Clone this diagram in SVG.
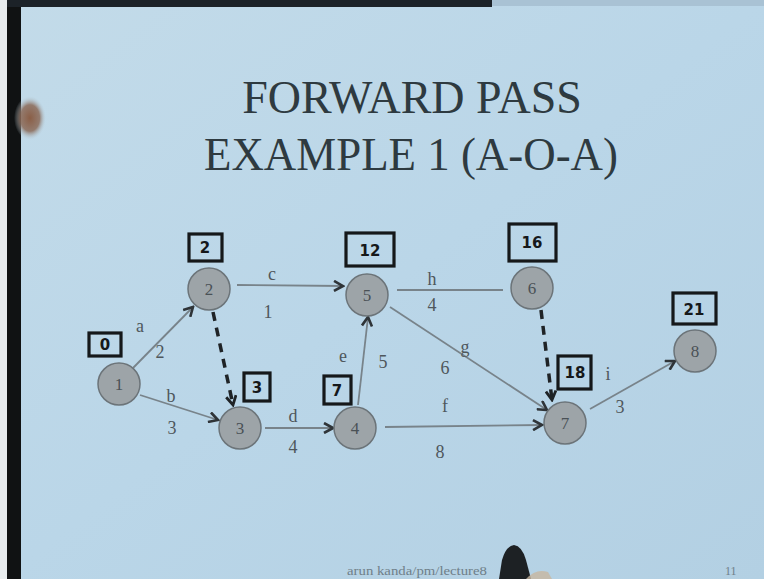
<svg xmlns="http://www.w3.org/2000/svg" width="764" height="579" viewBox="0 0 764 579">
<defs>
<linearGradient id="bg" x1="0" y1="0" x2="1" y2="1">
<stop offset="0" stop-color="#c3dbe9"/>
<stop offset="0.5" stop-color="#bad6e8"/>
<stop offset="1" stop-color="#b3d0e3"/>
</linearGradient>
<radialGradient id="hand" cx="0.5" cy="0.5" r="0.5">
<stop offset="0" stop-color="#8a5e46"/>
<stop offset="0.6" stop-color="#8b6a58" stop-opacity="0.85"/>
<stop offset="1" stop-color="#b8cfdc" stop-opacity="0"/>
</radialGradient>
<marker id="arr" viewBox="0 0 12 12" refX="10" refY="6" markerWidth="12" markerHeight="12" markerUnits="userSpaceOnUse" orient="auto">
<path d="M1,1 L10,6 L1,11" fill="none" stroke="#2f3438" stroke-width="2.6" stroke-linejoin="miter"/>
</marker>
<marker id="arrd" viewBox="0 0 12 12" refX="10" refY="6" markerWidth="12" markerHeight="12" markerUnits="userSpaceOnUse" orient="auto">
<path d="M1,1 L10,6 L1,11" fill="none" stroke="#1f2326" stroke-width="2.8"/>
</marker>
</defs>
<style>
.title{font-family:"Liberation Serif","Times New Roman",serif;font-size:46px;fill:#2e3a40;text-anchor:middle}
.node circle{fill:#9da4a8;stroke:#6c7479;stroke-width:1.5}
.node text.n{font-family:"Liberation Serif",serif;font-size:17px;fill:#4a5156;text-anchor:middle;dominant-baseline:central}
.box{fill:none;stroke:#15181a;stroke-width:3.2}
.bt{font-family:"DejaVu Sans","Liberation Sans",sans-serif;font-weight:bold;font-size:15px;fill:#15181a;text-anchor:middle}
.edge{stroke:#78838a;stroke-width:1.8;fill:none}
.dash{stroke:#1f2326;stroke-width:3.5;stroke-dasharray:9 7;fill:none}
.lbl{font-family:"Liberation Serif",serif;font-size:18px;fill:#4f575c;text-anchor:middle}
.foot{font-family:"Liberation Serif",serif;font-size:12px;fill:#6f7f89}
</style>
<rect width="764" height="579" fill="url(#bg)"/>
<rect x="0" y="0" width="7" height="579" fill="#e8ecee"/>
<rect x="7" y="0" width="14" height="579" fill="#101213"/>
<rect x="7" y="0" width="485" height="7" fill="#1c2228"/>
<rect x="492" y="0" width="272" height="6" fill="#a9c2d4"/>
<ellipse cx="30" cy="118" rx="16" ry="22" fill="url(#hand)"/>

<text class="title" x="412" y="113">FORWARD PASS</text>
<text class="title" x="411" y="170" textLength="414" lengthAdjust="spacingAndGlyphs">EXAMPLE 1 (A-O-A)</text>

<g id="connectors">
<line class="edge" x1="133" y1="368" x2="193" y2="307" marker-end="url(#arr)"/>
<line class="edge" x1="140" y1="395" x2="218" y2="420" marker-end="url(#arr)"/>
<line class="dash" x1="213" y1="312" x2="233" y2="405" marker-end="url(#arrd)"/>
<line class="edge" x1="237" y1="285" x2="343" y2="286" marker-end="url(#arr)"/>
<line class="edge" x1="265" y1="428" x2="333" y2="428" marker-end="url(#arr)"/>
<line class="edge" x1="358" y1="405" x2="368" y2="317" marker-end="url(#arr)"/>
<line class="edge" x1="397" y1="290" x2="503" y2="290"/>
<line class="edge" x1="390" y1="307" x2="547" y2="410" marker-end="url(#arr)"/>
<line class="edge" x1="385" y1="427" x2="542" y2="425" marker-end="url(#arr)"/>
<line class="dash" x1="541" y1="310" x2="552" y2="400" marker-end="url(#arrd)"/>
<line class="edge" x1="590" y1="409" x2="675" y2="361" marker-end="url(#arr)"/>
<text class="lbl" x="140" y="332">a</text>
<text class="lbl" x="160" y="358">2</text>
<text class="lbl" x="171" y="402">b</text>
<text class="lbl" x="172" y="434">3</text>
<text class="lbl" x="272" y="280">c</text>
<text class="lbl" x="268" y="318">1</text>
<text class="lbl" x="293" y="422">d</text>
<text class="lbl" x="293" y="453">4</text>
<text class="lbl" x="343" y="362">e</text>
<text class="lbl" x="383" y="368">5</text>
<text class="lbl" x="432" y="285">h</text>
<text class="lbl" x="432" y="311">4</text>
<text class="lbl" x="465" y="353">g</text>
<text class="lbl" x="445" y="374">6</text>
<text class="lbl" x="445" y="412">f</text>
<text class="lbl" x="440" y="458">8</text>
<text class="lbl" x="608" y="380">i</text>
<text class="lbl" x="620" y="413">3</text>
</g>

<g id="n1" class="node"><circle cx="119" cy="384" r="21"/><text class="n" x="119" y="384">1</text>
<rect class="box" x="89" y="333" width="32" height="23"/><text class="bt" x="105" y="350">0</text></g>
<g id="n2" class="node"><circle cx="209" cy="289" r="21"/><text class="n" x="209" y="289">2</text>
<rect class="box" x="189" y="234" width="33" height="27"/><text class="bt" x="205" y="253">2</text></g>
<g id="n3" class="node"><circle cx="240" cy="428" r="21"/><text class="n" x="240" y="428">3</text>
<rect class="box" x="244" y="373" width="26" height="28"/><text class="bt" x="257" y="393">3</text></g>
<g id="n4" class="node"><circle cx="355" cy="428" r="21"/><text class="n" x="355" y="428">4</text>
<rect class="box" x="324" y="376" width="27" height="28"/><text class="bt" x="337" y="396">7</text></g>
<g id="n5" class="node"><circle cx="367" cy="295" r="21"/><text class="n" x="367" y="295">5</text>
<rect class="box" x="346" y="233" width="48" height="33"/><text class="bt" x="370" y="256">12</text></g>
<g id="n6" class="node"><circle cx="532" cy="288" r="21"/><text class="n" x="532" y="288">6</text>
<rect class="box" x="509" y="224" width="47" height="37"/><text class="bt" x="532" y="248">16</text></g>
<g id="n7" class="node"><circle cx="565" cy="423" r="21"/><text class="n" x="565" y="423">7</text>
<rect class="box" x="558" y="356" width="33" height="33"/><text class="bt" x="575" y="378">18</text></g>
<g id="n8" class="node"><circle cx="695" cy="351" r="21"/><text class="n" x="695" y="351">8</text>
<rect class="box" x="673" y="293" width="43" height="31"/><text class="bt" x="694" y="315">21</text></g>

<text class="foot" x="347" y="575" textLength="140" lengthAdjust="spacingAndGlyphs">arun kanda/pm/lecture8</text>
<text class="foot" x="725" y="575">11</text>
<path d="M499,579 L502,560 Q506,546 514,545 Q522,546 526,560 L531,579 Z" fill="#1d2124"/>
<path d="M526,579 Q536,568 548,572 L552,579 Z" fill="#c8b6a0" opacity="0.8"/>
</svg>
